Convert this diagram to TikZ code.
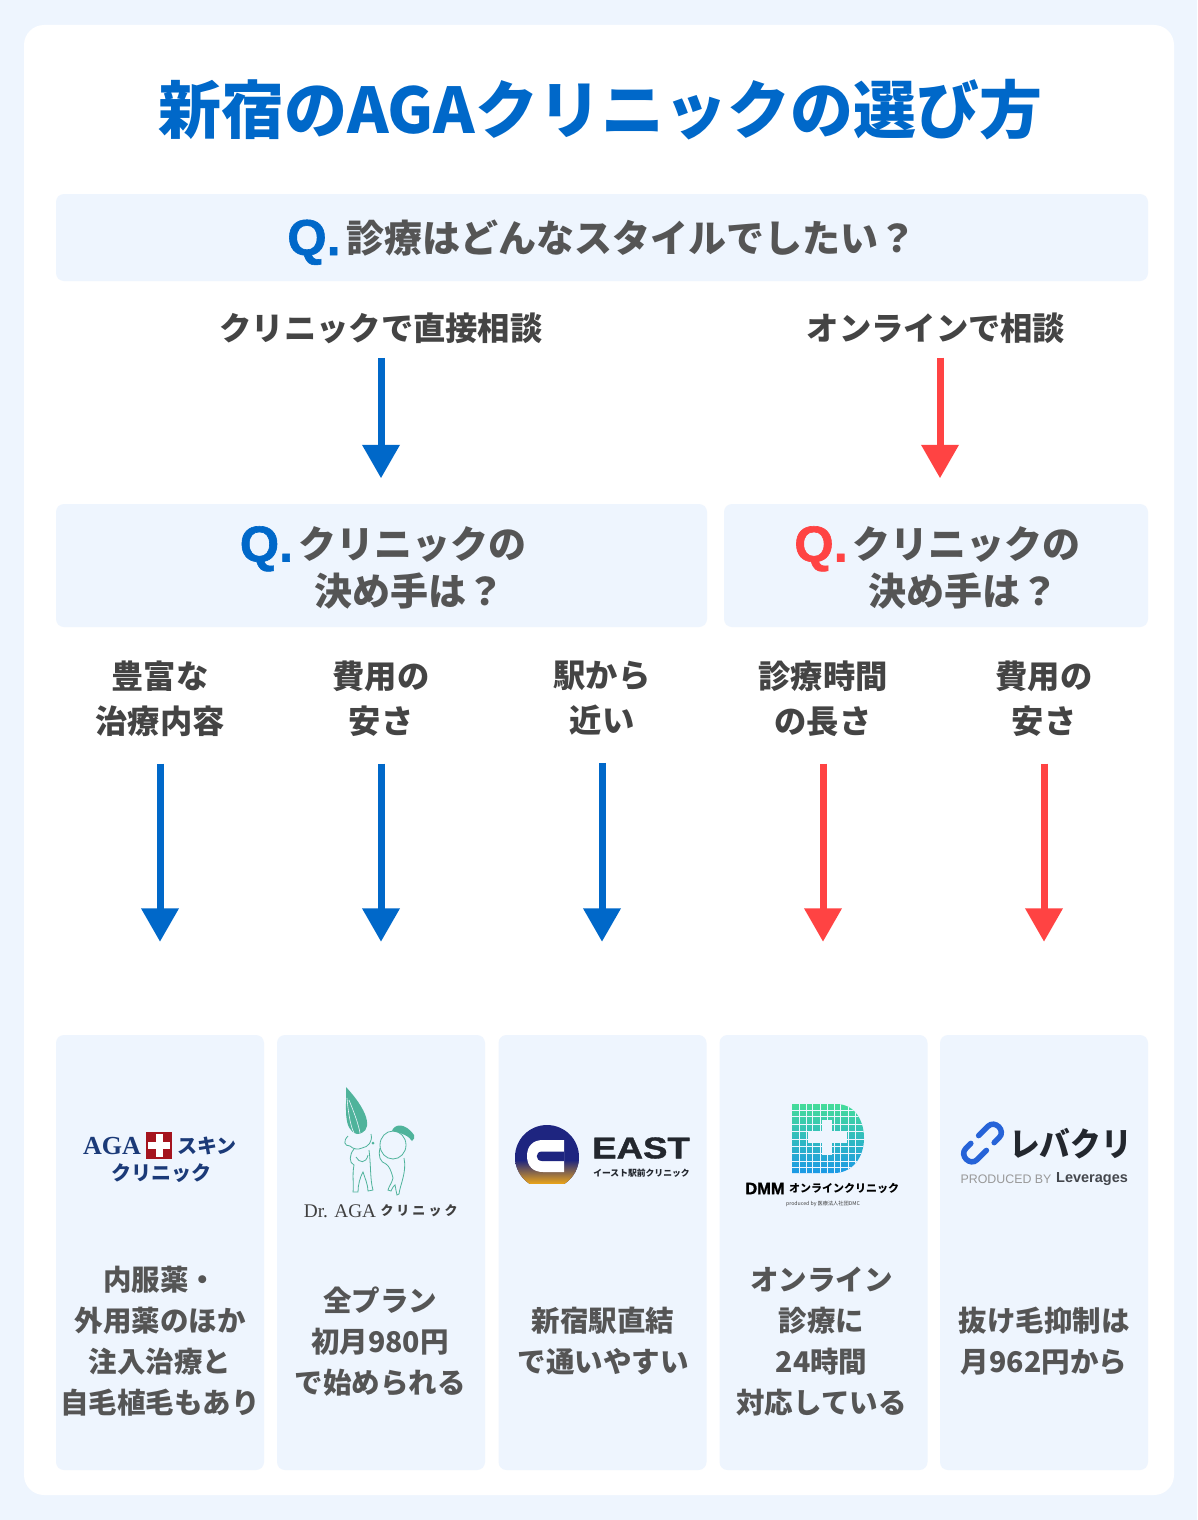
\documentclass[tikz,border=0pt]{standalone}
\usepackage{fontspec}
\usetikzlibrary{arrows.meta}
\setmainfont{Noto Sans CJK JP}
\newfontfamily\latinfont{Liberation Sans}
\newfontfamily\heavyfont{Liberation Sans}[BoldFeatures={FakeBold=1.2}]
\newfontfamily\seriffont{Liberation Serif}
\definecolor{pagebg}{HTML}{EEF5FE}
\definecolor{mainblue}{HTML}{0068C9}
\definecolor{mainred}{HTML}{FF4343}
\definecolor{asktext}{HTML}{555555}
\definecolor{opttext}{HTML}{444444}
\definecolor{agablue}{HTML}{1B3A78}
\definecolor{agared}{HTML}{A5141E}
\definecolor{drteal}{HTML}{4FB39B}
\definecolor{eastnavy}{HTML}{1E2580}
\definecolor{eastgold}{HTML}{E5A11C}
\definecolor{eastink}{HTML}{23272E}
\definecolor{levablue}{HTML}{2663D8}
\definecolor{dmmgreen}{HTML}{46DE97}
\definecolor{dmmcyan}{HTML}{22BBD8}
\definecolor{dmmblue}{HTML}{1A97E8}
\newcommand{\sz}[2]{\fontsize{#1}{#2}\selectfont}
\newcommand{\qmark}[2]{\smash{\raisebox{-3pt}{\heavyfont\bfseries\sz{50.5}{50}\textcolor{#1}{Q.}}}\hspace{#2}}
\tikzset{
	askbox/.style={fill=pagebg,rounded corners=8pt,inner sep=0pt,align=center,text=asktext,font=\bfseries\sz{38}{47}},
	optlabel/.style={align=center,inner sep=0pt,text=opttext,font=\bfseries\sz{32.3}{45}},
	card/.style={fill=pagebg,rounded corners=8pt,minimum width=208pt,minimum height=435pt,inner sep=0pt},
	cardtext/.style={align=center,inner sep=0pt,text=asktext,font=\bfseries\sz{28.5}{41}},
	bluearrow/.style={draw=mainblue,line width=7pt,-{Triangle[width=36pt,length=33.5pt]}},
	redarrow/.style={draw=mainred,line width=7pt,-{Triangle[width=36pt,length=33.5pt]}}
}
\begin{document}
\begin{tikzpicture}[x=1pt,y=-1pt]
	\useasboundingbox (0,0) rectangle (1197,1520);
	\fill[pagebg] (0,0) rectangle (1197,1520);
	\fill[white,rounded corners=20pt] (24,25) rectangle (1174,1495);
	\node[inner sep=0pt,text=mainblue,font=\bfseries\sz{63}{63}] (title) at (600,110) {新宿のAGAクリニックの選び方};

	\node[askbox,minimum width=1092pt,minimum height=87pt,text height=37pt,text depth=8pt] (ask0) at (602,237.5) {\qmark{mainblue}{6pt}診療はどんなスタイルでしたい？};
	\node[optlabel] (opt1) at (381,328) {クリニックで直接相談};
	\node[optlabel] (opt2) at (936,328) {オンラインで相談};
	\node[askbox,minimum width=651pt,minimum height=123pt,text height=88pt,text depth=8pt] (ask1) at (381.5,565.5) {\hspace*{3pt}\qmark{mainblue}{5pt}クリニックの\\\hspace*{55pt}決め手は？};
	\node[askbox,minimum width=424pt,minimum height=123pt,text height=88pt,text depth=8pt] (ask2) at (936,565.5) {\hspace*{3pt}\qmark{mainred}{5pt}クリニックの\\\hspace*{55pt}決め手は？};
	\draw[bluearrow,shorten <=14pt,shorten >=25.5pt] (opt1.south) -- (opt1.south |- ask1.north);
	\draw[redarrow,shorten <=14pt,shorten >=25.5pt] ([xshift=4pt]opt2.south) -- ([xshift=4pt]ask2.north);

	\node[optlabel] (pick1) at (160,698.5) {豊富な\\治療内容};
	\node[optlabel] (pick2) at (381,698.5) {費用の\\安さ};
	\node[optlabel] (pick3) at (602,698.5) {駅から\\近い};
	\node[optlabel] (pick4) at (823,698.5) {診療時間\\の長さ};
	\node[optlabel] (pick5) at (1044,698.5) {費用の\\安さ};
	\node[card] (card1) at (160,1252.5) {};
	\node[card] (card2) at (381,1252.5) {};
	\node[card] (card3) at (602.5,1252.5) {};
	\node[card] (card4) at (823.5,1252.5) {};
	\node[card] (card5) at (1044,1252.5) {};
	\foreach \n/\x in {1/160,2/381,3/602}
		\draw[bluearrow,shorten <=27pt,shorten >=93pt] (pick\n.south -| \x,0) -- (card\n.north -| \x,0);
	\foreach \n/\x in {4/823,5/1044}
		\draw[redarrow,shorten <=27pt,shorten >=93pt] (pick\n.south -| \x,0) -- (card\n.north -| \x,0);

	\node[cardtext] (note1) at (160,1341) {内服薬・\\外用薬のほか\\注入治療と\\自毛植毛もあり};
	\node[cardtext] (note2) at (380,1341.5) {全プラン\\初月980円\\で始められる};
	\node[cardtext] (note3) at (603,1341) {新宿駅直結\\で通いやすい};
	\node[cardtext] (note4) at (821.5,1341.5) {オンライン\\診療に\\24時間\\対応している};
	\node[cardtext] (note5) at (1044,1341) {抜け毛抑制は\\月962円から};

	\node[inner sep=0pt,text=agablue,font=\seriffont\bfseries\sz{26}{26}] (agatxt) at (112,1146) {AGA};
	\fill[agared] (146,1132) rectangle (172,1159);
	\fill[white] (155.5,1134) rectangle (162.5,1157);
	\fill[white] (148,1142) rectangle (170,1149);
	\node[inner sep=0pt,text=agablue,font=\bfseries\sz{20}{20}] (agakana) at (207,1146) {スキン};
	\node[inner sep=0pt,text=agablue,font=\bfseries\sz{20}{20}] (agaclinic) at (161,1173) {クリニック};

	\fill[drteal] (346,1087) .. controls (347,1105) and (342,1130) .. (357,1134) .. controls (372,1133) and (372,1115) .. (346,1087);
	\draw[pagebg,line width=0.6pt] (347,1098) .. controls (348,1110) and (350,1125) .. (354,1133);
	\draw[pagebg,line width=0.6pt] (349,1100) .. controls (353,1110) and (358,1122) .. (360,1133);
	\draw[drteal,line width=0.8pt] (348,1136) .. controls (343,1141) and (344,1146) .. (350,1146) .. controls (353,1149) and (358,1150) .. (362,1148) .. controls (368,1147) and (373,1142) .. (371,1134);
	\draw[drteal,line width=0.8pt] (354,1149) .. controls (349,1155) and (349,1163) .. (354,1165) .. controls (352,1175) and (354,1185) .. (353,1192) -- (358,1192) .. controls (358,1185) and (360,1177) .. (363,1172) .. controls (365,1178) and (368,1185) .. (368,1191) -- (373,1190) .. controls (370,1180) and (371,1165) .. (369,1150);
	\draw[drteal,line width=0.8pt] (356,1157) .. controls (359,1163) and (366,1164) .. (368,1155);
	\fill[drteal] (373,1143) circle[radius=1.5pt];
	\draw[drteal,line width=0.8pt] (393,1145) ellipse[x radius=13pt,y radius=14pt];
	\fill[drteal] (392,1131) .. controls (394,1124) and (405,1122) .. (414,1135) .. controls (415,1137) and (414,1140) .. (412,1141) .. controls (409,1136) and (402,1133) .. (392,1131);
	\draw[drteal,line width=0.8pt] (380,1148) .. controls (378,1156) and (380,1162) .. (386,1164) .. controls (389,1166) and (391,1170) .. (393,1178) .. controls (392,1183) and (389,1186) .. (388,1190) -- (391,1191) .. controls (393,1187) and (394,1185) .. (395,1185) .. controls (396,1189) and (396,1192) .. (397,1195) -- (399,1194) .. controls (400,1185) and (407,1172) .. (404,1158);
	\node[inner sep=0pt,text=black!75,font=\seriffont\sz{19.3}{19}] (drtxt) at (340,1211) {Dr. AGA};
	\node[inner sep=0pt,text=black!75,font=\bfseries\sz{13}{13}] (drkana) at (419,1211) {ク\hspace{3pt}リ\hspace{3pt}ニ\hspace{3pt}ッ\hspace{3pt}ク};

	\begin{scope}
		\clip (510,1120) rectangle (585,1183);
		\fill[eastnavy] (547,1157) circle[radius=32pt];
		\clip (547,1157) circle[radius=32pt];
		\shade[top color=eastnavy,bottom color=eastgold] (510,1160) rectangle (585,1183);
	\end{scope}
	\fill[white] (564,1140) -- (543,1140) .. controls (533,1140) and (527,1146) .. (527,1156) .. controls (527,1166) and (533,1172) .. (543,1172) -- (564,1172) -- cycle;
	\fill[eastnavy] (564,1151.5) -- (542,1151.5) .. controls (535,1151.5) and (535,1161) .. (542,1161) -- (564,1161) -- cycle;
	\node[inner sep=0pt,text=eastink,font=\heavyfont\bfseries\sz{30}{30},xscale=1.22,transform shape] (easttxt) at (641,1148) {EAST};
	\node[inner sep=0pt,text=eastink,font=\bfseries\sz{8.8}{9}] (eastkana) at (641.5,1173) {イースト駅前クリニック};

	\begin{scope}
		\clip (792,1104) -- (836,1104) .. controls (856,1104) and (864,1122) .. (864,1138) .. controls (864,1158) and (852,1173) .. (834,1173) -- (792,1173) -- cycle;
		\shade[top color=dmmgreen,middle color=dmmcyan,bottom color=dmmblue] (790,1102) rectangle (866,1175);
		\foreach \gx in {799,806,812,820,827,834,840,848,855}
			\draw[pagebg,line width=1pt] (\gx,1100) -- (\gx,1176);
		\foreach \gy in {1110,1116,1124,1131,1139,1146,1153,1161,1167}
			\draw[pagebg,line width=1pt] (790,\gy) -- (866,\gy);
	\end{scope}
	\fill[pagebg] (808,1131) rectangle (847,1143);
	\fill[pagebg] (822,1120) rectangle (832,1155);
	\node[inner sep=0pt,text=black,font=\heavyfont\bfseries\sz{16.5}{16}] (dmmtxt) at (765,1188.5) {DMM};
	\node[inner sep=0pt,text=black,font=\bfseries\sz{11}{11}] (dmmkana) at (844,1188.5) {オンラインクリニック};
	\node[inner sep=0pt,text=black!75,font=\sz{5.2}{6}] (dmmsub) at (823,1204) {produced by 医療法人社団DMC};

	\begin{scope}[rotate around={45:(982.5,1143)}]
		\draw[levablue,line width=5.5pt,line cap=round] (985,1135) -- (998,1135) .. controls (1008,1135) and (1008,1151) .. (998,1151) -- (991,1151);
		\draw[levablue,line width=5.5pt,line cap=round] (980,1151) -- (967,1151) .. controls (957,1151) and (957,1135) .. (967,1135) -- (974,1135);
	\end{scope}
	\node[inner sep=0pt,text=eastink,font=\bfseries\sz{33}{33},xscale=0.93,transform shape] (levatxt) at (1070.5,1143.5) {レバクリ};
	\node[inner sep=0pt,text=black!40,font=\latinfont\sz{12.4}{13}] (levasub) at (1006,1179) {PRODUCED BY};
	\node[inner sep=0pt,text=eastink!85,font=\latinfont\bfseries\sz{14.5}{14}] (levaname) at (1092,1179) {Leverages};
\end{tikzpicture}
\end{document}
